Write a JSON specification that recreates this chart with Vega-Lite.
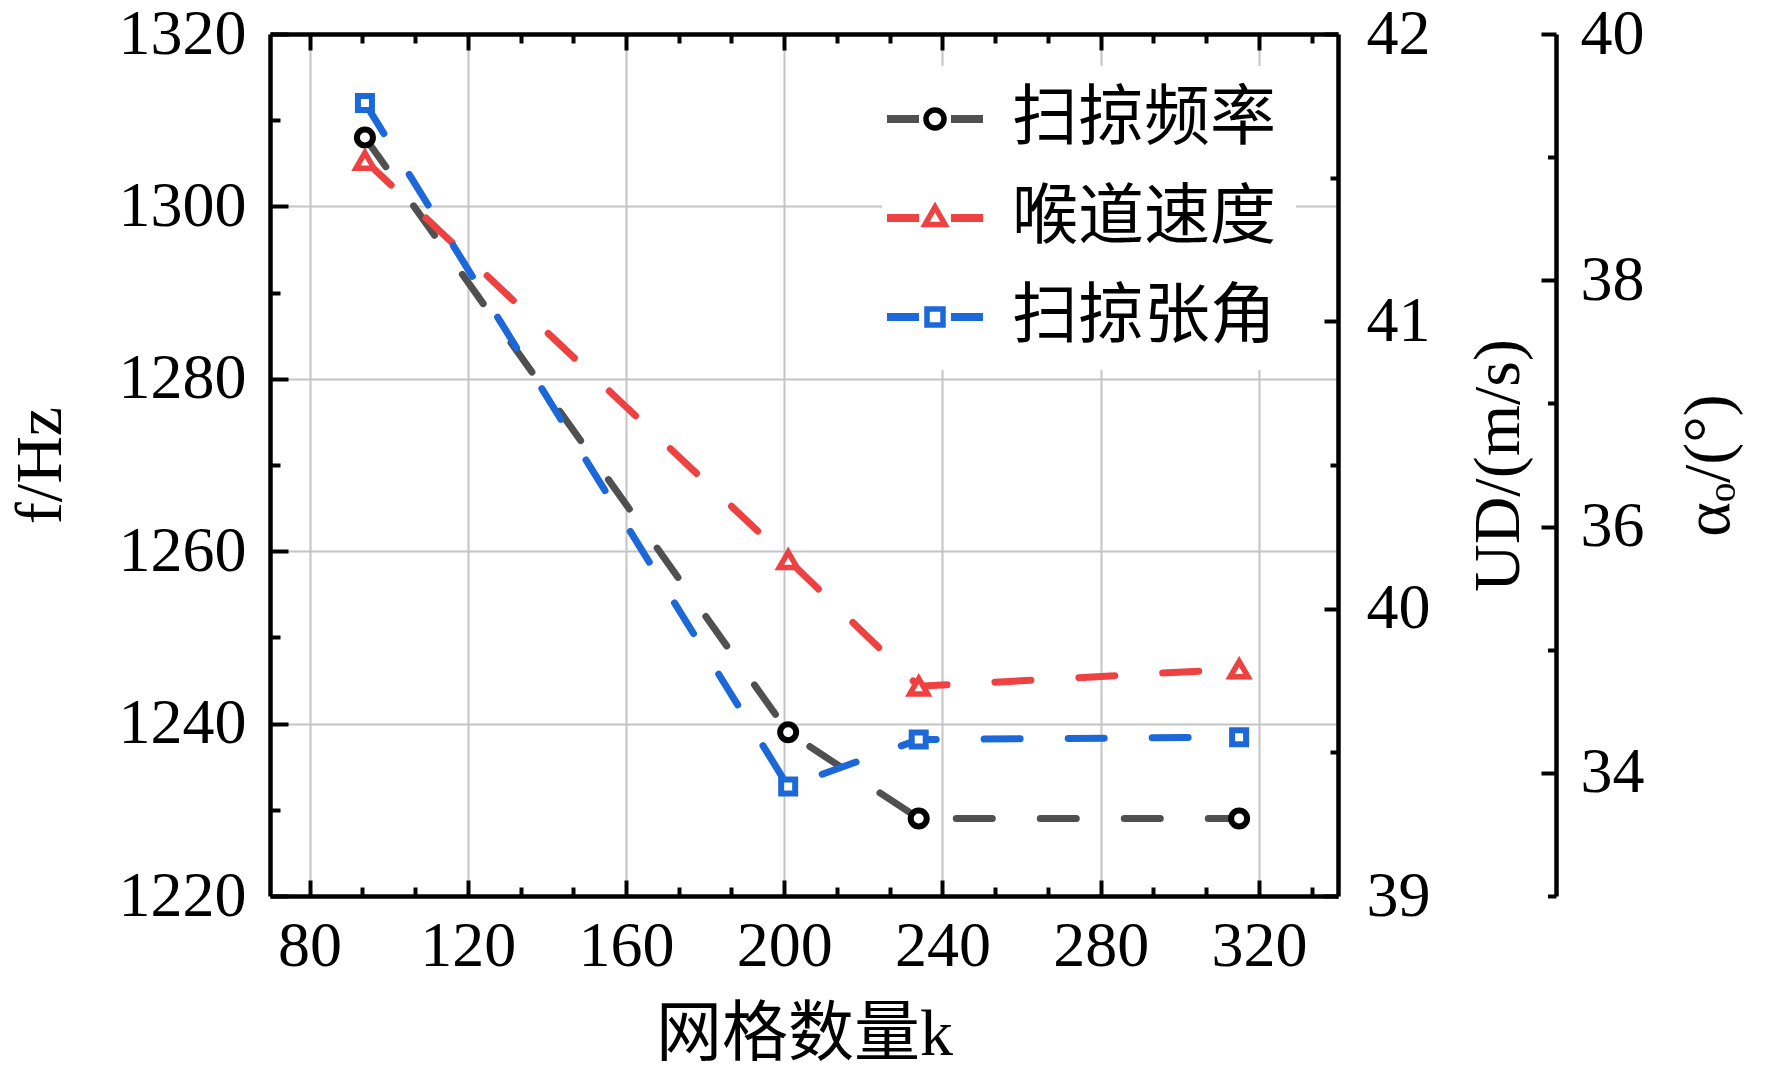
{
  "$schema": "https://vega.github.io/schema/vega-lite/v6.json",
  "width": 1068,
  "height": 862,
  "autosize": {"type": "none"},
  "padding": {"left": 270, "top": 34, "right": 434, "bottom": 186},
  "background": "white",
  "config": {
    "view": {"stroke": null},
    "font": "Liberation Serif",
    "axis": {
      "domainColor": "black",
      "domainWidth": 4.5,
      "tickColor": "black",
      "tickWidth": 4,
      "labelFont": "Liberation Serif",
      "labelFontSize": 64,
      "labelColor": "black",
      "titleFont": "Liberation Serif",
      "titleFontSize": 66,
      "titleFontWeight": "normal",
      "titleColor": "black",
      "labelOverlap": false,
      "labelBound": false,
      "labelFlush": false,
      "grid": false,
      "gridColor": "#c4c4c4",
      "gridWidth": 2
    }
  },
  "datasets": {
    "pts": [
      {"k": 94, "f": 1308, "ud": 41.56, "alpha": 39.44},
      {"k": 201, "f": 1239, "ud": 40.17, "alpha": 33.89},
      {"k": 234, "f": 1229, "ud": 39.73, "alpha": 34.27},
      {"k": 315, "f": 1229, "ud": 39.79, "alpha": 34.29}
    ],
    "leg": [
      {"series": "扫掠频率", "mk": "a"},
      {"series": "喉道速度", "mk": "b"},
      {"series": "扫掠张角", "mk": "c"}
    ]
  },
  "data": {"name": "pts"},
  "layer": [
    {
      "layer": [
        {
          "mark": {"type": "line", "color": "#505050", "strokeWidth": 7, "strokeDash": [36, 48], "strokeCap": "round"},
          "encoding": {
            "x": {
              "field": "k", "type": "quantitative",
              "scale": {"domain": [70, 340], "nice": false, "zero": false},
              "axis": {
                "orient": "bottom",
                "title": "网格数量k",
                "titleFont": "Liberation Serif, Noto Sans CJK SC",
                "titlePadding": 24,
                "values": [80, 120, 160, 200, 240, 280, 320],
                "format": "d",
                "tickSize": -16,
                "labelPadding": 34,
                "grid": true
              }
            },
            "y": {
              "field": "f", "type": "quantitative",
              "scale": {"domain": [1220, 1320], "nice": false, "zero": false},
              "axis": {
                "orient": "left",
                "title": "f/Hz",
                "titlePadding": 44,
                "values": [1220, 1240, 1260, 1280, 1300, 1320],
                "format": "d",
                "tickSize": -18,
                "labelPadding": 42,
                "grid": true
              }
            }
          }
        },
        {
          "mark": {"type": "point", "shape": "circle", "size": 256, "filled": true, "fill": "white", "stroke": "black", "strokeWidth": 6, "opacity": 1},
          "encoding": {
            "x": {
              "field": "k", "type": "quantitative",
              "scale": {"domain": [70, 340], "nice": false, "zero": false},
              "axis": {"orient": "bottom", "title": null, "labels": false, "domain": false, "grid": false, "values": [93.3333, 106.6667, 133.3333, 146.6667, 173.3333, 186.6667, 213.3333, 226.6667, 253.3333, 266.6667, 293.3333, 306.6667, 333.3333], "tickSize": -9}
            },
            "y": {
              "field": "f", "type": "quantitative",
              "axis": {"orient": "left", "title": null, "labels": false, "domain": false, "grid": false, "values": [1230, 1250, 1270, 1290, 1310], "tickSize": -10}
            }
          }
        }
      ],
      "resolve": {"axis": {"x": "independent", "y": "independent"}}
    },
    {
      "layer": [
        {
          "mark": {"type": "line", "color": "#EE4242", "strokeWidth": 7, "strokeDash": [36, 48], "strokeCap": "round"},
          "encoding": {
            "x": {
              "field": "k", "type": "quantitative",
              "scale": {"domain": [70, 340], "nice": false, "zero": false},
              "axis": {"orient": "top", "title": null, "labels": false, "grid": false, "values": [80, 120, 160, 200, 240, 280, 320], "tickSize": -16}
            },
            "y": {
              "field": "ud", "type": "quantitative",
              "scale": {"domain": [39, 42], "nice": false, "zero": false},
              "axis": {
                "orient": "right",
                "title": "UD/(m/s)",
                "titleAngle": 270,
                "titleBaseline": "top",
                "titlePadding": 36,
                "values": [39, 40, 41, 42],
                "format": "d",
                "tickSize": -14,
                "labelPadding": 42,
                "grid": false
              }
            }
          }
        },
        {
          "mark": {"type": "point", "shape": "triangle-up", "size": 320, "filled": true, "fill": "white", "stroke": "#EE4242", "strokeWidth": 5.5, "opacity": 1},
          "encoding": {
            "x": {
              "field": "k", "type": "quantitative",
              "scale": {"domain": [70, 340], "nice": false, "zero": false},
              "axis": {"orient": "top", "title": null, "labels": false, "domain": false, "grid": false, "values": [93.3333, 106.6667, 133.3333, 146.6667, 173.3333, 186.6667, 213.3333, 226.6667, 253.3333, 266.6667, 293.3333, 306.6667, 333.3333], "tickSize": -9}
            },
            "y": {
              "field": "ud", "type": "quantitative",
              "axis": {"orient": "right", "title": null, "labels": false, "domain": false, "grid": false, "values": [39.5, 40.5, 41.5], "tickSize": -8}
            }
          }
        }
      ],
      "resolve": {"axis": {"x": "independent", "y": "independent"}}
    },
    {
      "layer": [
        {
          "mark": {"type": "line", "color": "#1C68D8", "strokeWidth": 7, "strokeDash": [36, 48], "strokeCap": "round"},
          "encoding": {
            "x": {"field": "k", "type": "quantitative", "scale": {"domain": [70, 340], "nice": false, "zero": false}, "axis": null},
            "y": {
              "field": "alpha", "type": "quantitative",
              "scale": {"domain": [33, 40], "nice": false, "zero": false},
              "axis": {
                "orient": "right",
                "offset": 218,
                "title": "αₒ/(°)",
                "titleAngle": 270,
                "titleBaseline": "top",
                "titlePadding": 32,
                "values": [34, 36, 38, 40],
                "format": "d",
                "tickSize": -15,
                "labelPadding": 39,
                "grid": false
              }
            }
          }
        },
        {
          "mark": {"type": "point", "shape": "square", "size": 196, "filled": true, "fill": "white", "stroke": "#1C68D8", "strokeWidth": 6, "opacity": 1},
          "encoding": {
            "x": {"field": "k", "type": "quantitative", "scale": {"domain": [70, 340], "nice": false, "zero": false}, "axis": null},
            "y": {
              "field": "alpha", "type": "quantitative",
              "axis": {"orient": "right", "offset": 218, "title": null, "labels": false, "domain": false, "grid": false, "values": [33, 35, 37, 39], "tickSize": -8.5}
            }
          }
        }
      ],
      "resolve": {"axis": {"x": "independent", "y": "independent"}}
    },
    {
      "data": {"name": "leg"},
      "mark": {"type": "point", "opacity": 0, "filled": false},
      "encoding": {
        "stroke": {
          "field": "series", "type": "nominal", "sort": null,
          "scale": {"domain": ["扫掠频率", "喉道速度", "扫掠张角"], "range": ["#505050", "#EE4242", "#1C68D8"]},
          "legend": {
            "title": null,
            "orient": "none",
            "legendX": 612,
            "legendY": 32,
            "padding": 20,
            "fillColor": "white",
            "symbolType": "M-2.4,0H-0.8M0.8,0H2.4",
            "symbolSize": 1600,
            "symbolStrokeWidth": 8,
            "symbolOpacity": 1,
            "labelFont": "Noto Sans CJK SC",
            "labelFontSize": 66,
            "labelColor": "black",
            "labelOffset": 44,
            "labelLimit": 0,
            "rowPadding": 33,
            "encode": {"symbols": {"update": {"strokeCap": {"value": "round"}}}}
          }
        }
      }
    },
    {
      "data": {"name": "leg"},
      "mark": {"type": "point", "opacity": 0, "filled": false},
      "encoding": {
        "color": {
          "field": "mk", "type": "nominal", "sort": null,
          "scale": {"domain": ["a", "b", "c"], "range": ["#000000", "#EE4242", "#1C68D8"]},
          "legend": {
            "title": null,
            "orient": "none",
            "legendX": 612,
            "legendY": 32,
            "padding": 20,
            "symbolSize": 1600,
            "symbolStrokeWidth": 5.5,
            "symbolOpacity": 1,
            "labelFont": "Noto Sans CJK SC",
            "labelFontSize": 66,
            "labelExpr": "''",
            "labelOffset": 44,
            "rowPadding": 33
          }
        },
        "shape": {
          "field": "mk", "type": "nominal", "sort": null,
          "scale": {"domain": ["a", "b", "c"], "range": ["M0.45,0A0.45,0.45,0,1,1,-0.45,0A0.45,0.45,0,1,1,0.45,0Z", "M0,-0.55L0.5,0.33L-0.5,0.33Z", "M-0.4,-0.4H0.4V0.4H-0.4Z"]},
          "legend": {
            "title": null,
            "orient": "none",
            "legendX": 612,
            "legendY": 32,
            "padding": 20,
            "symbolSize": 1600,
            "symbolStrokeWidth": 5.5,
            "symbolOpacity": 1,
            "labelFont": "Noto Sans CJK SC",
            "labelFontSize": 66,
            "labelExpr": "''",
            "labelOffset": 44,
            "rowPadding": 33
          }
        }
      }
    }
  ],
  "resolve": {"scale": {"y": "independent"}, "axis": {"x": "independent", "y": "independent"}}
}
